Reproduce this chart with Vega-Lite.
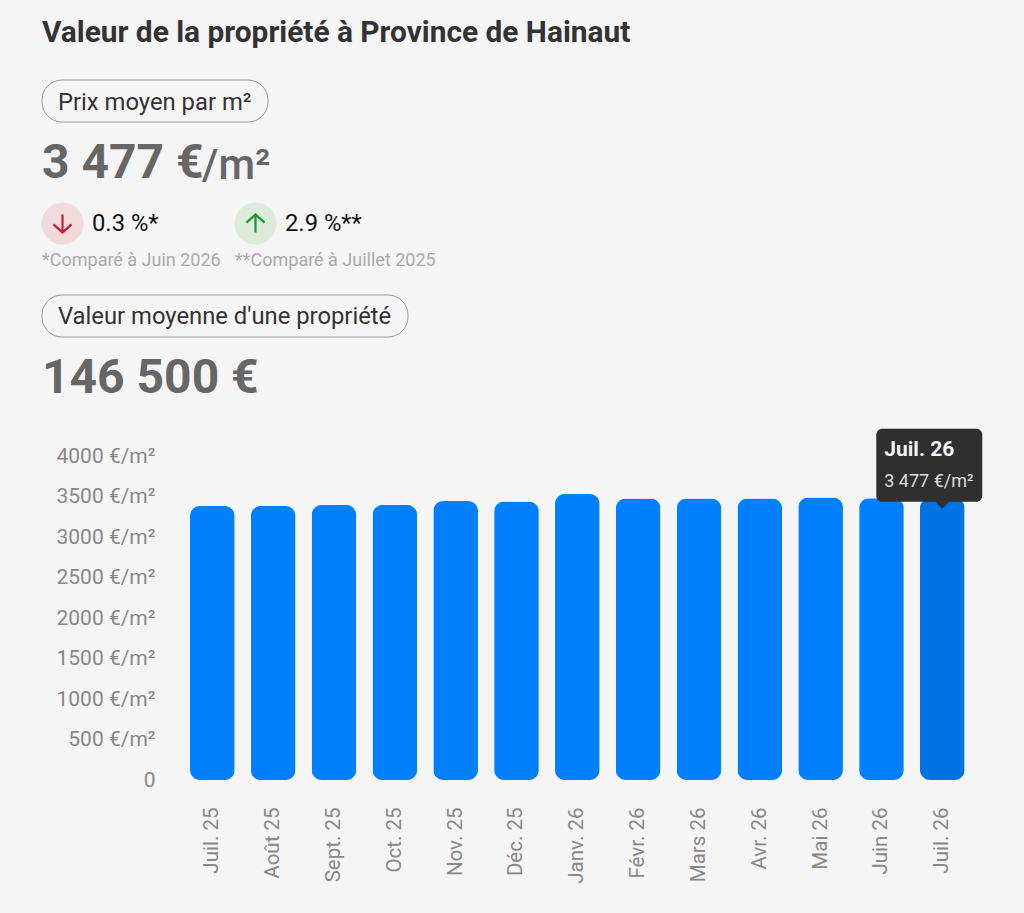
{
"$schema":"https://vega.github.io/schema/vega-lite/v6.json",
"width":1024,"height":913,"padding":0,"autosize":{"type":"none"},"background":"#f5f5f5",
"config":{"view":{"stroke":null},"text":{"font":"Roboto"},"axis":{"labelFont":"Roboto"}},
"datasets":{
"prices":[
{"month":"Juil. 25","value":3383},{"month":"Août 25","value":3383},{"month":"Sept. 25","value":3395},{"month":"Oct. 25","value":3395},{"month":"Nov. 25","value":3444},{"month":"Déc. 25","value":3438},{"month":"Janv. 26","value":3531},{"month":"Févr. 26","value":3475},{"month":"Mars 26","value":3475},{"month":"Avr. 26","value":3475},{"month":"Mai 26","value":3488},{"month":"Juin 26","value":3477},{"month":"Juil. 26","value":3477,"tip":"3 477 €/m²"}],
"header":[
{"kind":"title","row":"title","col":"left","text":"Valeur de la propriété à Province de Hainaut"},
{"kind":"pill1","row":"pill1","col":"left","text":"Prix moyen par m²"},
{"kind":"big1","row":"value1","col":"left","text":"3 477 €"},
{"kind":"unit","row":"value1","col":"left","text":"/m²"},
{"kind":"delta","row":"delta","col":"left","text":"0.3 %*","dir":"down"},
{"kind":"delta","row":"delta","col":"right","text":"2.9 %**","dir":"up"},
{"kind":"note","row":"note","col":"left","text":"*Comparé à Juin 2026"},
{"kind":"note","row":"note","col":"right","text":"**Comparé à Juillet 2025"},
{"kind":"pill2","row":"pill2","col":"left","text":"Valeur moyenne d'une propriété"},
{"kind":"big2","row":"value2","col":"left","text":"146 500 €"}]
},
"resolve":{"scale":{"x":"independent","y":"independent"}},
"layer":[
{"data":{"name":"prices"},
 "encoding":{
  "x":{"field":"month","type":"nominal","sort":null,"title":null,
   "scale":{"type":"band","range":[190,964.6],"paddingInner":0.266,"paddingOuter":0},
   "axis":{"orient":"bottom","offset":-106,"labelAngle":-90,"labelPadding":0,"labelFontSize":20.5,"labelColor":"#888888","domain":false,"ticks":false,"grid":false}},
  "y":{"field":"value","type":"quantitative","title":null,
   "scale":{"domain":[0,4000],"range":[780,456],"nice":false},
   "axis":{"orient":"left","offset":-155,"labelPadding":0,"labelFontSize":21,"labelColor":"#888888","domain":false,"ticks":false,"grid":false,"values":[0,500,1000,1500,2000,2500,3000,3500,4000],"labelExpr":"datum.value === 0 ? '0' : datum.value + ' €/m²'"}}
 },
 "layer":[
  {"mark":{"type":"bar","cornerRadius":10},
   "encoding":{"color":{"condition":{"test":"datum.tip","value":"#0073E2"},"value":"#0080FF"}}},
  {"transform":[{"filter":"datum.tip"}],"mark":{"type":"rect","width":106,"height":73,"cornerRadius":6,"color":"#2f2f2f","xOffset":-13,"yOffset":-33}},
  {"transform":[{"filter":"datum.tip"}],"mark":{"type":"point","shape":"M-1,-0.5L1,-0.5L0,0.5Z","size":196,"filled":true,"opacity":1,"color":"#2f2f2f","yOffset":7}},
  {"transform":[{"filter":"datum.tip"}],"mark":{"type":"text","align":"left","baseline":"middle","fontSize":21,"fontWeight":"bold","color":"#f5f5f5","xOffset":-58,"yOffset":-48},"encoding":{"text":{"field":"month"}}},
  {"transform":[{"filter":"datum.tip"}],"mark":{"type":"text","align":"left","baseline":"middle","fontSize":18,"color":"#dddddd","xOffset":-58,"yOffset":-16},"encoding":{"text":{"field":"tip"}}}
 ]},
{"data":{"name":"header"},
 "encoding":{
  "x":{"field":"col","type":"nominal","axis":null,"scale":{"type":"point","domain":["left","right"],"range":[42,235],"padding":0}},
  "y":{"field":"row","type":"nominal","axis":null,"scale":{"type":"point","domain":["title","pill1","value1","delta","note","pill2","value2"],"range":[32,377],"padding":0}}
 },
 "layer":[
  {"transform":[{"filter":"datum.kind==='title'"}],"mark":{"type":"text","align":"left","baseline":"middle","fontSize":29.85,"fontWeight":"bold","color":"#333333","yOffset":1},"encoding":{"text":{"field":"text"}}},
  {"transform":[{"filter":"datum.kind==='pill1'"}],"mark":{"type":"rect","width":226,"height":42,"cornerRadius":20,"filled":false,"stroke":"#999999","strokeWidth":1,"xOffset":113,"yOffset":11.5}},
  {"transform":[{"filter":"datum.kind==='pill2'"}],"mark":{"type":"rect","width":366,"height":42,"cornerRadius":20,"filled":false,"stroke":"#999999","strokeWidth":1,"xOffset":183,"yOffset":-3.5}},
  {"transform":[{"filter":"datum.kind==='pill1'"}],"mark":{"type":"text","align":"left","baseline":"middle","fontSize":23.8,"color":"#333333","xOffset":16,"yOffset":13},"encoding":{"text":{"field":"text"}}},
  {"transform":[{"filter":"datum.kind==='pill2'"}],"mark":{"type":"text","align":"left","baseline":"middle","fontSize":23.8,"color":"#333333","xOffset":16,"yOffset":-2.5},"encoding":{"text":{"field":"text"}}},
  {"transform":[{"filter":"datum.kind==='big1'"}],"mark":{"type":"text","align":"left","baseline":"middle","fontSize":48,"fontWeight":"bold","color":"#666666","yOffset":17},"encoding":{"text":{"field":"text"}}},
  {"transform":[{"filter":"datum.kind==='unit'"}],"mark":{"type":"text","align":"left","baseline":"middle","fontSize":42,"fontWeight":500,"color":"#666666","xOffset":160,"yOffset":19},"encoding":{"text":{"field":"text"}}},
  {"transform":[{"filter":"datum.kind==='big2'"}],"mark":{"type":"text","align":"left","baseline":"middle","fontSize":48,"fontWeight":"bold","color":"#666666","yOffset":1.5},"encoding":{"text":{"field":"text"}}},
  {"transform":[{"filter":"datum.kind==='delta'"}],"mark":{"type":"point","shape":"circle","size":1764,"filled":true,"opacity":1,"xOffset":20.5,"yOffset":19},"encoding":{"color":{"condition":{"test":"datum.dir==='down'","value":"#f2d9dc"},"value":"#dcebdb"}}},
  {"transform":[{"filter":"datum.dir==='down'"}],"mark":{"type":"point","shape":"M0,-1L0,1M-1,0.1L0,1L1,0.1","size":324,"filled":false,"opacity":1,"strokeWidth":2.2,"color":"#c0202f","xOffset":20.5,"yOffset":19}},
  {"transform":[{"filter":"datum.dir==='up'"}],"mark":{"type":"point","shape":"M0,1L0,-1M-1,-0.1L0,-1L1,-0.1","size":324,"filled":false,"opacity":1,"strokeWidth":2.2,"color":"#159a2b","xOffset":20.5,"yOffset":19}},
  {"transform":[{"filter":"datum.kind==='delta'"}],"mark":{"type":"text","align":"left","baseline":"middle","fontSize":23.8,"color":"#111111","xOffset":50,"yOffset":19.5},"encoding":{"text":{"field":"text"}}},
  {"transform":[{"filter":"datum.kind==='note'"}],"mark":{"type":"text","align":"left","baseline":"middle","fontSize":18,"color":"#aaaaaa","yOffset":-1},"encoding":{"text":{"field":"text"}}}
 ]}
]
}
